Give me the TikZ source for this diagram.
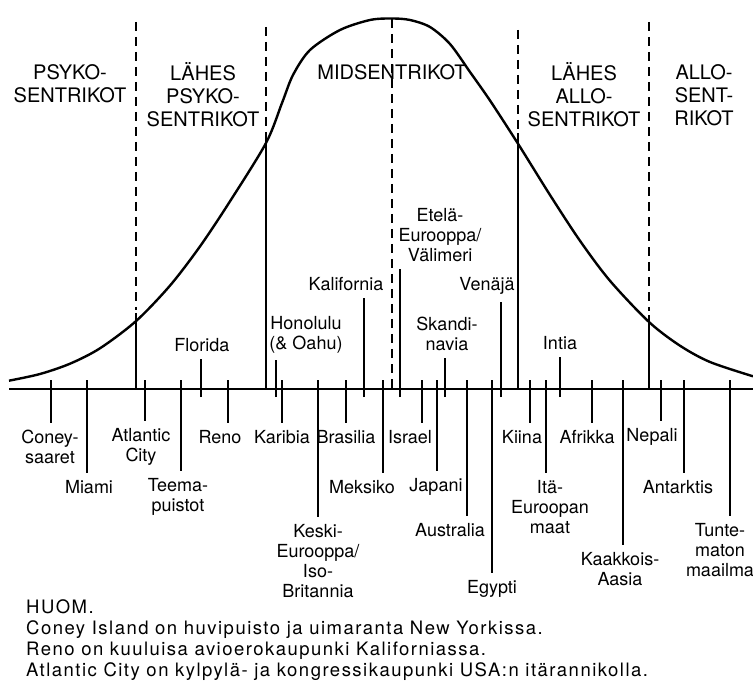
\documentclass[tikz,border=0pt]{standalone}
\usepackage{fontspec}
\setmainfont{TeX Gyre Heros}

\begin{document}
\begin{tikzpicture}[x=1pt,y=-1pt,
  lbl/.style={font=\fontsize{18}{20}\selectfont,align=center,inner sep=2pt,outer sep=5pt},
  hdr/.style={font=\fontsize{20}{23}\selectfont,align=center,inner sep=1pt},
  note/.style={font=\fontsize{18.5}{21}\selectfont\addfontfeature{LetterSpace=8},align=left,inner sep=0pt},
  tck/.style={line width=1.5pt},
  bnd/.style={line width=2.4pt},
  dsh/.style={line width=2.8pt,dash pattern=on 9pt off 6pt}]

  \useasboundingbox (0,0) rectangle (753,687);

  % axis and bell curve
  \draw[bnd] (9,389) -- (753,389);
  \draw[bnd] plot[smooth] coordinates {(9,380.7) (40,374) (70,363.7) (100,348.3) (136,321.1)
    (170,285.6) (200,246.4) (230,201.3) (266,143) (282,103) (293,75) (310,50) (340,30)
    (370,20) (392,18.5) (410,20) (430,27) (450,44) (470,72) (490,100.5) (518,143.7)
    (550,195) (580,240.8) (610,280.8) (649,322) (680,345.7) (710,362) (753,376.3)};

  % zone borders
  \draw[dsh] (136,22) -- (136,310);
  \draw[bnd] (136,313) -- (136,389);
  \draw[dsh] (266,27) -- (266,128);
  \draw[bnd] (266,132) -- (266,389);
  \draw[dsh] (392,19) -- (392,389);
  \draw[dsh] (518,30) -- (518,129);
  \draw[bnd] (518,133) -- (518,389);
  \draw[dsh] (649,22) -- (649,311);
  \draw[bnd] (649,315) -- (649,389);

  % zone names
  \node[hdr] (psyko) at (70,84) {PSYKO-\\SENTRIKOT};
  \node[hdr] (lpsyko) at (203,95) {LÄHES\\PSYKO-\\SENTRIKOT};
  \node[hdr] (mid) at (392,72) {MIDSENTRIKOT};
  \node[hdr] (lallo) at (584,95) {LÄHES\\ALLO-\\SENTRIKOT};
  \node[hdr] (allo) at (704,95) {ALLO-\\SENT-\\RIKOT};

  % places above the axis
  \node[lbl] (florida) at (202,345) {Florida};
  \node[lbl] (honolulu) at (306,335) {Honolulu\\(\& Oahu)};
  \node[lbl] (kalif) at (346,284) {Kalifornia};
  \node[lbl] (etela) at (440,235) {Etelä-\\Eurooppa/\\Välimeri};
  \node[lbl] (skandi) at (447,334) {Skandi-\\navia};
  \node[lbl] (venaja) at (487,286) {Venäjä};
  \node[lbl] (intia) at (560,343) {Intia};

  % places below the axis
  \node[lbl] (coney) at (50,447) {Coney-\\saaret};
  \node[lbl] (miami) at (89,487) {Miami};
  \node[lbl] (atlantic) at (141,447) {Atlantic\\City};
  \node[lbl] (teema) at (178,497) {Teema-\\puistot};
  \node[lbl] (reno) at (220,437) {Reno};
  \node[lbl] (karibia) at (282,437) {Karibia};
  \node[lbl] (keski) at (318,561) {Keski-\\Eurooppa/\\Iso-\\Britannia};
  \node[lbl] (brasilia) at (346,437) {Brasilia};
  \node[lbl] (meksiko) at (362,487) {Meksiko};
  \node[lbl] (israel) at (410,437) {Israel};
  \node[lbl] (japani) at (436,487) {Japani};
  \node[lbl] (australia) at (450,530) {Australia};
  \node[lbl] (egypti) at (492,589) {Egypti};
  \node[lbl] (kiina) at (522,437) {Kiina};
  \node[lbl] (itae) at (550,507) {Itä-\\Euroopan\\maat};
  \node[lbl] (afrikka) at (587,437) {Afrikka};
  \node[lbl] (kaakkois) at (620,569) {Kaakkois-\\Aasia};
  \node[lbl] (nepali) at (652,437) {Nepali};
  \node[lbl] (antarktis) at (678,487) {Antarktis};
  \node[lbl] (tunte) at (720,550) {Tunte-\\maton\\maailma};

  % ticks up to the labels
  \foreach \n/\x in {florida/201,honolulu/276,kalif/364,etela/400,skandi/445,venaja/501,intia/560}
    \draw[tck] (\x,397) -- (\x,397 |- \n.south);

  % ticks down to the labels
  \foreach \n/\x in {coney/51,miami/87,atlantic/145,teema/181,reno/228,karibia/282,keski/318,
    brasilia/346,meksiko/383,israel/422,japani/437,australia/467,egypti/492,kiina/530,
    itae/546,afrikka/592,kaakkois/623,nepali/661,antarktis/684,tunte/730}
    \draw[tck] (\x,380) -- (\x,380 |- \n.north);

  % footnote
  \node[note,anchor=north west] (huom) at (26,599) {HUOM.\\
    Coney Island on huvipuisto ja uimaranta New Yorkissa.\\
    Reno on kuuluisa avioerokaupunki Kaliforniassa.\\
    Atlantic City on kylpylä- ja kongressikaupunki USA:n itärannikolla.};
\end{tikzpicture}
\end{document}
